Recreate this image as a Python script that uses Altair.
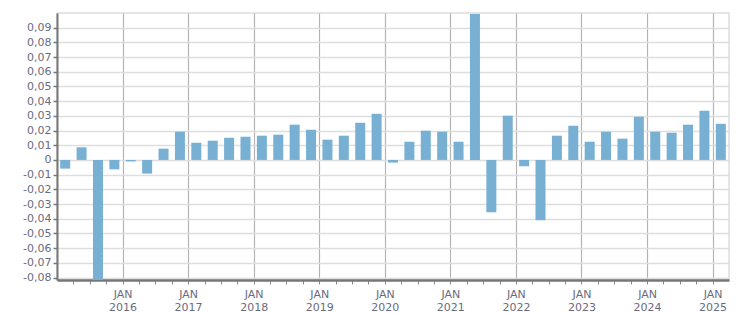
import altair as alt
import pandas as pd

years = [2015]*4 + [2016]*4 + [2017]*4 + [2018]*4 + [2019]*4 + [2020]*4 + [2021]*4 + [2022]*4 + [2023]*4 + [2024]*4 + [2025]
quarters = [1, 2, 3, 4] * 10 + [1]
values = [
    -0.0059, 0.0086, -0.0830, -0.0064,
    -0.0010, -0.0093, 0.0077, 0.0192,
    0.0117, 0.0131, 0.0151, 0.0158,
    0.0165, 0.0172, 0.0240, 0.0206,
    0.0138, 0.0165, 0.0253, 0.0314,
    -0.0018, 0.0124, 0.0199, 0.0192,
    0.0124, 0.0993, -0.0356, 0.0301,
    -0.0043, -0.0410, 0.0165, 0.0233,
    0.0124, 0.0192, 0.0145, 0.0294,
    0.0192, 0.0185, 0.0240, 0.0335,
    0.0246,
]
y_ticks = [-0.08, -0.07, -0.06, -0.05, -0.04, -0.03, -0.02, -0.01, 0,
           0.01, 0.02, 0.03, 0.04, 0.05, 0.06, 0.07, 0.08, 0.09]
first_year, last_year = 2015, 2025

df = pd.DataFrame({"year": years, "quarter": quarters, "value": values})
df["pos"] = df["year"] + (df["quarter"] - 1) / 4 + 0.125

x_ticks = [first_year + i / 4 for i in range(1, (last_year - first_year) * 4 + 1)]

label_color = "#6b6b80"
font = "DejaVu Sans"

chart = alt.Chart(df).mark_bar(color="#77b0d3", size=10, clip=True).encode(
    x=alt.X(
        "pos:Q",
        scale=alt.Scale(domain=[first_year, last_year + 0.25], nice=False, zero=False, padding=0),
        axis=alt.Axis(
            title=None,
            values=x_ticks,
            labelExpr="datum.value % 1 == 0 ? ['JAN', format(datum.value, 'd')] : ''",
            grid=True,
            gridColor="#b4b4b4",
            gridWidth=1.2,
            gridOpacity={"condition": {"test": "datum.value % 1 == 0", "value": 1}, "value": 0},
            domainColor="#777777",
            domainWidth=2.5,
            tickColor="#888888",
            tickSize=4,
            tickWidth=1,
            labelColor=label_color,
            labelFont=font,
            labelFontSize=11,
            labelPadding=4,
            labelLineHeight=13,
            labelBaseline="top",
            labelOverlap=False,
            labelFlush=False,
        ),
    ),
    y=alt.Y(
        "value:Q",
        scale=alt.Scale(domain=[-0.0817, 0.1], nice=False, zero=False),
        axis=alt.Axis(
            title=None,
            values=y_ticks,
            labelExpr="datum.value == 0 ? '0' : (datum.value < 0 ? '-' : '') + replace(format(abs(datum.value), '.2f'), '.', ',')",
            grid=True,
            gridColor="#dedede",
            gridWidth=1.3,
            domainColor="#777777",
            domainWidth=2,
            tickColor="#777777",
            tickSize=4,
            tickWidth=1.5,
            labelColor=label_color,
            labelFont=font,
            labelFontSize=11,
            labelPadding=2,
            labelOverlap=False,
            labelFlush=False,
        ),
    ),
).properties(
    width=672,
    height=267,
    autosize=alt.AutoSizeParams(type="none"),
    padding={"left": 57, "top": 13, "right": 22, "bottom": 33},
    background="white",
).configure_view(
    stroke="#dddddd",
    strokeWidth=1.5,
)

chart.save("out.html", embed_options={"renderer": "svg", "actions": False})
